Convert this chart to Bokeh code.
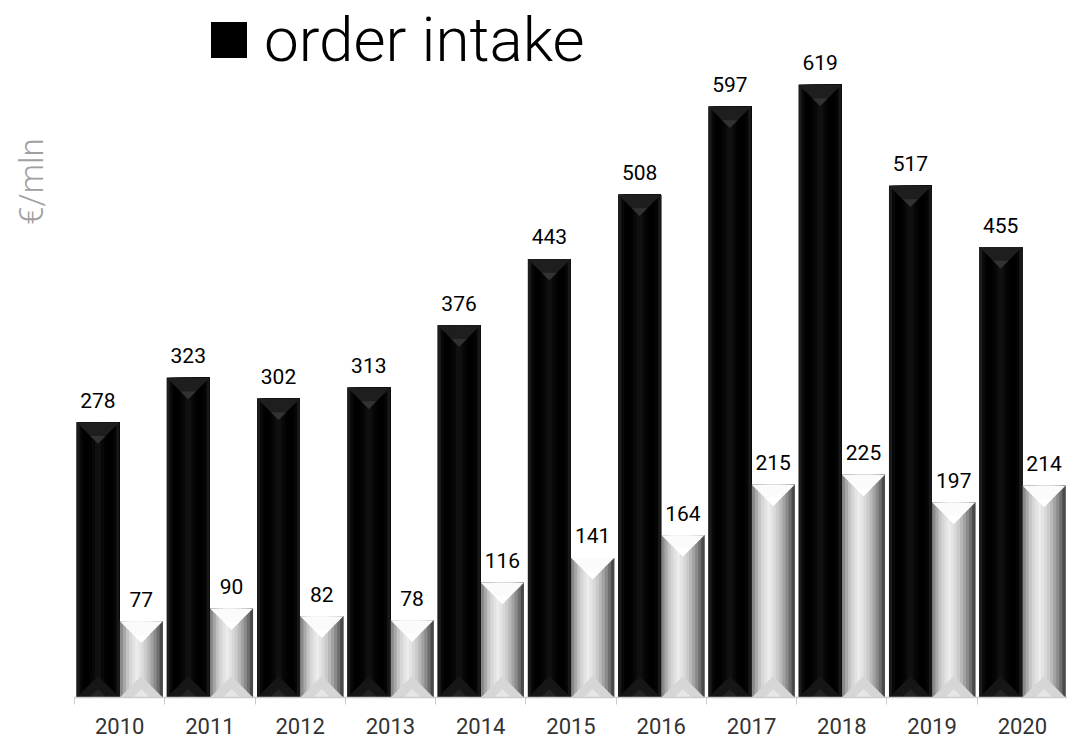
import numpy as np
from bokeh.plotting import figure
from bokeh.layouts import row
from bokeh.models import Range1d, FixedTicker, Label, Legend, LegendItem
from bokeh.core.properties import value
from bokeh.embed import file_html
from bokeh.resources import INLINE

# ---- data ----
years = ["2010", "2011", "2012", "2013", "2014", "2015", "2016", "2017", "2018", "2019", "2020"]
order_intake = [278, 323, 302, 313, 376, 443, 508, 597, 619, 517, 455]
second_series = [77, 90, 82, 78, 116, 141, 164, 215, 225, 197, 214]
legend_label = "order intake"
y_unit_label = "€/mln"

# ---- layout constants ----
H = 739
LEFT_W = 74          # strip that carries the unit label
W = 1067 - LEFT_W    # main chart
BOTTOM = 42
FRAME_W, FRAME_H = W, H - BOTTOM
Y_MAX = 704
BAR_W = 0.475
OFF = 0.24
N_STRIPS = 14

px_x = FRAME_W / 11.0
px_y = FRAME_H / Y_MAX
bevel = (BAR_W * px_x / 2.0) / px_y  # 45 degree bevel depth in data units

# ---- left strip with the unit label ----
lp = figure(width=LEFT_W, height=H, output_backend="svg", toolbar_location=None,
            x_range=Range1d(0, LEFT_W), y_range=Range1d(0, H),
            x_axis_location=None, y_axis_location=None,
            min_border_left=0, min_border_right=0, min_border_top=0, min_border_bottom=0)
lp.outline_line_color = None
lp.xgrid.visible = False
lp.ygrid.visible = False
lp.add_layout(Label(x=31, y=H - 192, text=y_unit_label, angle=np.pi / 2,
                    text_align="center", text_baseline="alphabetic",
                    text_font="Roboto Light", text_font_size="33px",
                    text_color="#a0a0a0"))

# ---- main chart ----
p = figure(width=W, height=H, output_backend="svg", toolbar_location=None,
           x_range=Range1d(-0.5, 10.5), y_range=Range1d(0, Y_MAX),
           y_axis_location=None, min_border_left=0, min_border_right=0,
           min_border_top=0, min_border_bottom=BOTTOM)
p.outline_line_color = None
p.xgrid.visible = False
p.ygrid.visible = False
p.background_fill_color = "white"
p.border_fill_color = "white"

idx = np.arange(len(years))

black_strips = ["#1c1c1c", "#080808", "#000000", "#000000", "#030303", "#080808", "#101010",
                "#101010", "#080808", "#030303", "#000000", "#000000", "#050505", "#181818"]
gray_strips = ["#8a8a8a", "#a8a8a8", "#c4c4c4", "#d6d6d6", "#e2e2e2", "#ececec", "#e4e4e4",
               "#d8d8d8", "#cacaca", "#b8b8b8", "#a2a2a2", "#8a8a8a", "#6e6e6e", "#4a4a4a"]


def draw_series(vals, centers, strips, top_col, top_inner, bot_col, bot_inner):
    vals = np.asarray(vals, dtype=float)
    L = centers - BAR_W / 2
    R = centers + BAR_W / 2
    base = p.vbar(x=centers, top=vals, bottom=0, width=BAR_W, fill_color="black",
                  line_color=None)
    sw = BAR_W / N_STRIPS
    # each strip runs from its own left edge to the bar's right edge (no seams)
    for k, col in enumerate(strips):
        left = L + sw * k
        p.vbar(x=(left + R) / 2, top=vals, bottom=0, width=R - left,
               fill_color=col, line_color=None)
    # top bevel triangles
    p.patches(xs=[[l, r, c] for l, r, c in zip(L, R, centers)],
              ys=[[v, v, v - bevel] for v in vals], fill_color=top_col, line_color=None)
    p.patches(xs=[[c - BAR_W * 0.18, c + BAR_W * 0.18, c] for c in centers],
              ys=[[v - bevel * 0.64, v - bevel * 0.64, v - bevel] for v in vals],
              fill_color=top_inner, line_color=None)
    # bottom bevel triangles
    p.patches(xs=[[l, r, c] for l, r, c in zip(L, R, centers)],
              ys=[[0, 0, bevel] for _ in vals], fill_color=bot_col, line_color=None)
    p.patches(xs=[[c - BAR_W * 0.2, c + BAR_W * 0.2, c] for c in centers],
              ys=[[0, 0, bevel * 0.4] for _ in vals], fill_color=bot_inner, line_color=None)
    p.text(x=centers, y=vals, text=[str(int(v)) for v in vals], text_align="center",
           text_baseline="alphabetic", y_offset=-22, text_font=value("Roboto"),
           text_font_size="21px", text_color="black")
    return base


black_r = draw_series(order_intake, idx - OFF, black_strips, "#1e1e1e", "#323232", "#161616", "#242424")
draw_series(second_series, idx + OFF, gray_strips, "#fbfbfb", "#ffffff", "#d6d6d6", "#e6e6e6")

# ---- x axis ----
ax = p.xaxis[0]
ax.ticker = FixedTicker(ticks=list(idx), minor_ticks=[i - 0.5 for i in range(len(years) + 1)])
ax.major_label_overrides = {int(i): y for i, y in zip(idx, years)}
ax.major_tick_line_color = None
ax.major_tick_out = 0
ax.major_tick_in = 0
ax.minor_tick_in = 0
ax.minor_tick_out = 7
ax.minor_tick_line_color = "#cccccc"
ax.axis_line_color = "#cccccc"
ax.axis_line_width = 1.5
ax.major_label_standoff = 13
ax.major_label_text_font = "Roboto"
ax.major_label_text_font_size = "22px"
ax.major_label_text_color = "#333333"

# ---- legend ----
legend = Legend(items=[LegendItem(label=legend_label, renderers=[black_r])],
                location=(132, 621), orientation="horizontal",
                glyph_width=45, glyph_height=45, label_standoff=13,
                padding=0, margin=0, spacing=0,
                border_line_color=None, background_fill_alpha=0,
                label_text_font="Roboto Light", label_text_font_size="62px",
                label_text_color="black")
p.add_layout(legend, "center")

layout = row(lp, p, spacing=0)
open("out.html", "w").write(file_html(layout, INLINE))
